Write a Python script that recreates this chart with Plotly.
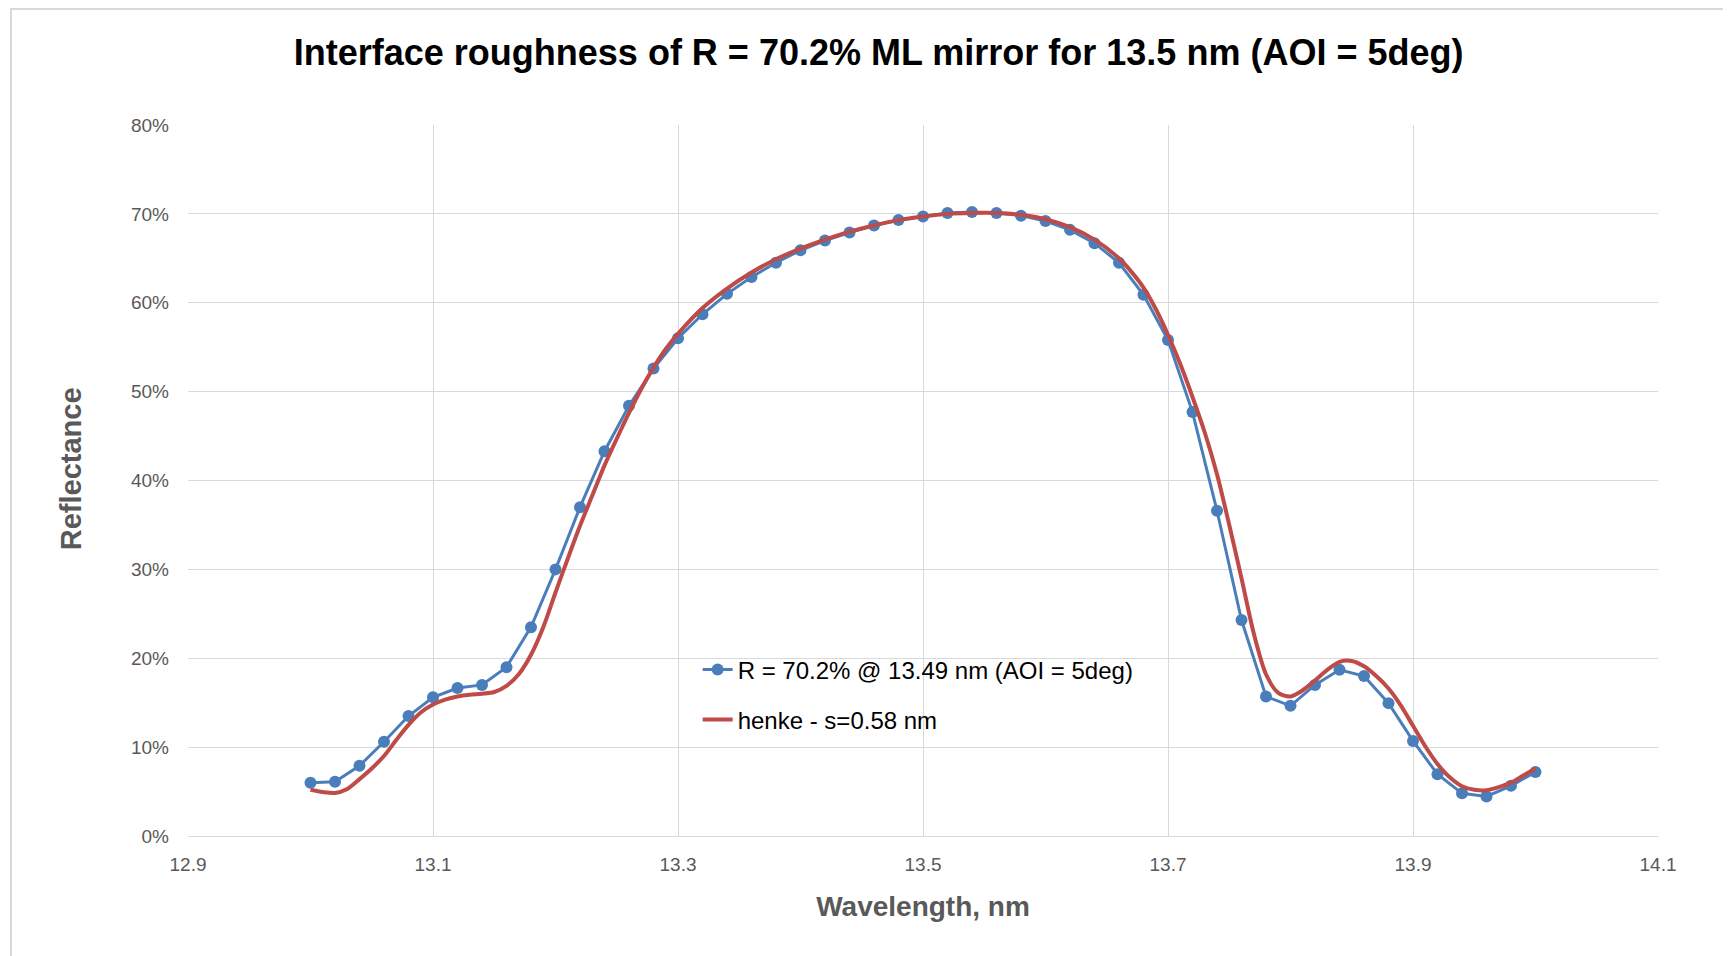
import plotly.graph_objects as go

# measured ML mirror reflectance (blue points), %
wl_meas = [13.00, 13.02, 13.04, 13.06, 13.08, 13.10, 13.12, 13.14, 13.16, 13.18,
           13.20, 13.22, 13.24, 13.26, 13.28, 13.30, 13.32, 13.34, 13.36, 13.38,
           13.40, 13.42, 13.44, 13.46, 13.48, 13.50, 13.52, 13.54, 13.56, 13.58,
           13.60, 13.62, 13.64, 13.66, 13.68, 13.70, 13.72, 13.74, 13.76, 13.78,
           13.80, 13.82, 13.84, 13.86, 13.88, 13.90, 13.92, 13.94, 13.96, 13.98,
           14.00]
r_meas = [6.0, 6.1, 7.9, 10.6, 13.5, 15.6, 16.65, 17.0, 19.0, 23.5,
          30.0, 37.0, 43.3, 48.4, 52.6, 56.0, 58.7, 61.0, 62.9, 64.5,
          65.9, 67.0, 67.9, 68.7, 69.3, 69.7, 70.1, 70.2, 70.1, 69.8,
          69.2, 68.2, 66.7, 64.5, 60.9, 55.8, 47.7, 36.6, 24.3, 15.7,
          14.65, 17.0, 18.7, 18.0, 14.95, 10.7, 6.95, 4.8, 4.45, 5.65,
          7.2]

# henke model with sigma = 0.58 nm (red curve), %
wl_henke = [13.00, 13.01, 13.02, 13.03, 13.04, 13.05, 13.06, 13.07, 13.08, 13.09,
            13.10, 13.11, 13.12, 13.13, 13.14, 13.15, 13.16, 13.17, 13.18, 13.19,
            13.20, 13.21, 13.22, 13.23, 13.24, 13.25, 13.26, 13.27, 13.28, 13.29,
            13.30, 13.32, 13.34, 13.36, 13.38, 13.40, 13.42, 13.44, 13.46, 13.48,
            13.50, 13.52, 13.54, 13.56, 13.58, 13.60, 13.62, 13.64, 13.66, 13.67,
            13.68, 13.69, 13.70, 13.71, 13.72, 13.73, 13.74, 13.75, 13.76, 13.77,
            13.78, 13.79, 13.80, 13.81, 13.82, 13.83, 13.84, 13.85, 13.86, 13.87,
            13.88, 13.89, 13.90, 13.91, 13.92, 13.93, 13.94, 13.95, 13.96, 13.97,
            13.98, 13.99, 14.00]
r_henke = [5.2, 4.95, 4.85, 5.3, 6.4, 7.6, 9.0, 10.8, 12.5, 13.9,
           14.8, 15.35, 15.7, 15.9, 16.0, 16.2, 16.9, 18.2, 20.4, 23.5,
           27.4, 31.2, 34.9, 38.3, 41.7, 44.7, 47.6, 50.3, 52.7, 54.8,
           56.5, 59.4, 61.6, 63.4, 64.9, 66.1, 67.1, 68.0, 68.7, 69.3,
           69.7, 70.0, 70.1, 70.1, 69.9, 69.4, 68.5, 67.1, 65.0, 63.5,
           61.7, 59.3, 56.4, 53.1, 49.4, 45.4, 40.7, 35.0, 29.0, 22.8,
           18.2, 16.1, 15.7, 16.4, 17.5, 18.7, 19.6, 19.7, 19.1, 18.0,
           16.6, 14.7, 12.4, 10.1, 8.1, 6.6, 5.6, 5.2, 5.15, 5.5,
           6.0, 6.8, 7.6]

x_ticks = [12.9, 13.1, 13.3, 13.5, 13.7, 13.9, 14.1]
y_ticks = [0, 10, 20, 30, 40, 50, 60, 70, 80]
y_labels = ['0%', '10%', '20%', '30%', '40%', '50%', '60%', '70%', '80%']

blue = '#4A7EBB'
red = '#BE4B48'
grey = '#595959'
font = 'Liberation Sans, Arial, sans-serif'

fig = go.Figure()
fig.add_trace(go.Scatter(x=wl_meas, y=r_meas, mode='lines+markers',
                         name='R = 70.2% @ 13.49 nm (AOI = 5deg)',
                         line=dict(color=blue, width=3),
                         marker=dict(color=blue, size=12),
                         showlegend=True, legend='legend'))
fig.add_trace(go.Scatter(x=wl_henke, y=r_henke, mode='lines',
                         name='henke - s=0.58 nm',
                         line=dict(color=red, width=4, shape='spline', smoothing=0.8),
                         showlegend=True, legend='legend2'))

legend_font = dict(family=font, size=24, color='#000000')

# page body adds an 8px offset, so the figure is 8px smaller than the window
fig.update_layout(
    width=1723, height=948,
    margin=dict(l=180, r=73, t=117, b=120),
    plot_bgcolor='white', paper_bgcolor='white',
    showlegend=True,
    title=dict(text='<b>Interface roughness of R = 70.2% ML mirror for 13.5 nm (AOI = 5deg)</b>',
               font=dict(family=font, size=36, color='#000000'),
               x=0.5053, xref='container', xanchor='center',
               y=1 - 44 / 948, yref='container', yanchor='middle'),
    legend=dict(x=0.3467, y=0.2335, xanchor='left', yanchor='middle',
                bgcolor='rgba(0,0,0,0)', font=legend_font),
    legend2=dict(x=0.3467, y=0.1632, xanchor='left', yanchor='middle',
                 bgcolor='rgba(0,0,0,0)', font=legend_font),
    shapes=[dict(type='rect', xref='paper', yref='paper',
                 x0=-0.1204, x1=1.3, y0=-0.4, y1=1.1632,
                 line=dict(color='#d9d9d9', width=2), layer='below')],
    annotations=[dict(text='<b>Reflectance</b>', textangle=-90,
                      xref='paper', yref='paper', x=-0.0791, y=0.5169,
                      xanchor='center', yanchor='middle', showarrow=False,
                      font=dict(family=font, size=29, color=grey))],
)

fig.update_xaxes(range=[12.9, 14.1], tickvals=x_ticks, tickformat='.1f',
                 showgrid=True, gridcolor='#d9d9d9', gridwidth=1.3,
                 zeroline=False, showline=True, linecolor='#d9d9d9', linewidth=1.3,
                 ticks='', ticklabelstandoff=11, automargin=False,
                 tickfont=dict(family=font, size=19, color=grey),
                 title=dict(text='<b>Wavelength, nm</b>', standoff=22,
                            font=dict(family=font, size=28, color=grey)))
fig.update_yaxes(range=[0, 80], tickvals=y_ticks, ticktext=y_labels,
                 showgrid=True, gridcolor='#d9d9d9', gridwidth=1.3,
                 zeroline=False, showline=False,
                 ticks='', ticklabelstandoff=18, automargin=False,
                 tickfont=dict(family=font, size=19, color=grey))

fig.write_html('out.html')
